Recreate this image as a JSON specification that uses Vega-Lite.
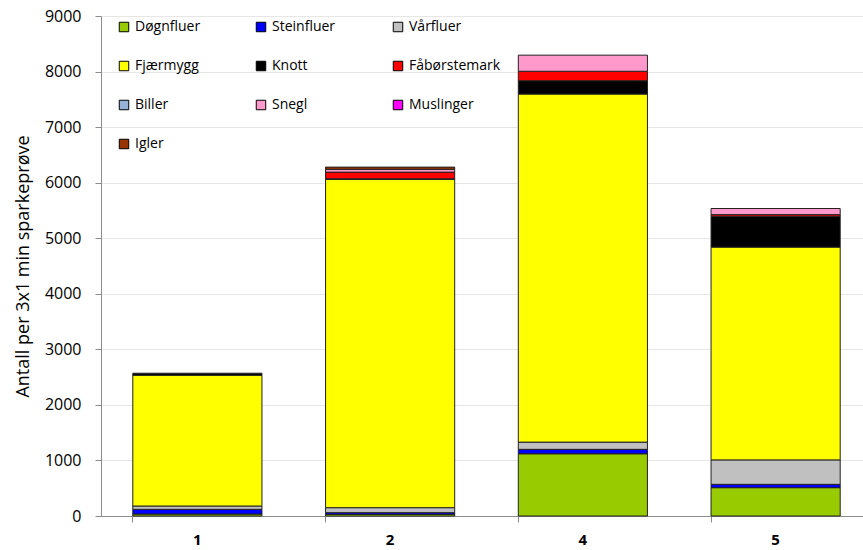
{
  "$schema": "https://vega.github.io/schema/vega-lite/v6.json",
  "autosize": "none",
  "width": 771,
  "height": 500,
  "padding": {"left": 101, "top": 16, "right": 0, "bottom": 34},
  "background": "white",
  "config": {
    "view": {"stroke": null},
    "font": "Open Sans"
  },
  "data": {
    "values": [
      {"stasjon": "1", "gruppe": "Døgnfluer", "antall": 35},
      {"stasjon": "1", "gruppe": "Steinfluer", "antall": 85},
      {"stasjon": "1", "gruppe": "Vårfluer", "antall": 60},
      {"stasjon": "1", "gruppe": "Fjærmygg", "antall": 2355},
      {"stasjon": "1", "gruppe": "Knott", "antall": 35},
      {"stasjon": "2", "gruppe": "Døgnfluer", "antall": 30},
      {"stasjon": "2", "gruppe": "Steinfluer", "antall": 30},
      {"stasjon": "2", "gruppe": "Vårfluer", "antall": 90},
      {"stasjon": "2", "gruppe": "Fjærmygg", "antall": 5910},
      {"stasjon": "2", "gruppe": "Knott", "antall": 10},
      {"stasjon": "2", "gruppe": "Fåbørstemark", "antall": 120},
      {"stasjon": "2", "gruppe": "Snegl", "antall": 50},
      {"stasjon": "2", "gruppe": "Igler", "antall": 40},
      {"stasjon": "4", "gruppe": "Døgnfluer", "antall": 1120},
      {"stasjon": "4", "gruppe": "Steinfluer", "antall": 80},
      {"stasjon": "4", "gruppe": "Vårfluer", "antall": 130},
      {"stasjon": "4", "gruppe": "Fjærmygg", "antall": 6265},
      {"stasjon": "4", "gruppe": "Knott", "antall": 240},
      {"stasjon": "4", "gruppe": "Fåbørstemark", "antall": 170},
      {"stasjon": "4", "gruppe": "Snegl", "antall": 290},
      {"stasjon": "5", "gruppe": "Døgnfluer", "antall": 510},
      {"stasjon": "5", "gruppe": "Steinfluer", "antall": 60},
      {"stasjon": "5", "gruppe": "Vårfluer", "antall": 440},
      {"stasjon": "5", "gruppe": "Fjærmygg", "antall": 3830},
      {"stasjon": "5", "gruppe": "Knott", "antall": 555},
      {"stasjon": "5", "gruppe": "Fåbørstemark", "antall": 30},
      {"stasjon": "5", "gruppe": "Snegl", "antall": 110}
    ]
  },
  "transform": [
    {"calculate": "indexof(['Døgnfluer','Steinfluer','Vårfluer','Fjærmygg','Knott','Fåbørstemark','Biller','Snegl','Muslinger','Igler'], datum.gruppe)", "as": "rekkefolge"}
  ],
  "resolve": {"axis": {"x": "independent"}},
  "layer": [
    {
      "mark": {"type": "bar", "stroke": "#222222", "strokeWidth": 1},
      "encoding": {
        "x": {
          "field": "stasjon", "type": "nominal",
          "scale": {"paddingInner": 0.33, "paddingOuter": 0.165},
          "axis": {
            "orient": "bottom",
            "title": null, "labelAngle": 0, "labelFont": "Open Sans", "labelFontSize": 15,
            "labelFontWeight": "bold", "labelColor": "#000000", "labelPadding": 16,
            "ticks": false, "domainColor": "#8c8c8c", "domainWidth": 1, "grid": false
          }
        },
        "y": {
          "field": "antall", "type": "quantitative", "stack": "zero",
          "scale": {"domain": [0, 9000], "nice": false},
          "axis": {
            "title": "Antall per 3x1 min sparkeprøve", "titleFont": "Open Sans", "titleFontSize": 18,
            "titleFontWeight": "normal", "titleColor": "#000000", "titlePadding": 12,
            "values": [0,1000,2000,3000,4000,5000,6000,7000,8000,9000], "format": "d",
            "labelFont": "Open Sans", "labelFontSize": 16, "labelColor": "#000000", "labelPadding": 14,
            "tickSize": 6, "tickColor": "#8c8c8c", "domainColor": "#8c8c8c",
            "gridColor": "#e6e6e6", "gridWidth": 1
          }
        },
        "color": {
          "field": "gruppe", "type": "nominal",
          "scale": {
            "domain": ["Døgnfluer","Steinfluer","Vårfluer","Fjærmygg","Knott","Fåbørstemark","Biller","Snegl","Muslinger","Igler"],
            "range": ["#99CC00","#0000FF","#C0C0C0","#FFFF00","#000000","#FF0000","#95B3D7","#FF99CC","#FF00FF","#993300"]
          },
          "legend": {
            "title": null, "orient": "none", "legendX": 16, "legendY": 4,
            "columns": 3, "direction": "horizontal", "gridAlign": "all",
            "columnPadding": 27, "rowPadding": 25,
            "symbolType": "square", "symbolSize": 90, "symbolStrokeColor": "#000000", "symbolStrokeWidth": 1,
            "labelFont": "Open Sans", "labelFontSize": 14, "labelColor": "#000000", "labelOffset": 4
          }
        },
        "order": {"field": "rekkefolge", "type": "quantitative"}
      }
    },
    {
      "mark": {"type": "bar", "opacity": 0},
      "encoding": {
        "x": {
          "field": "stasjon", "type": "nominal",
          "axis": {
            "orient": "bottom", "title": null, "labels": false, "domain": false, "grid": false,
            "ticks": true, "bandPosition": 0, "tickSize": 6, "tickColor": "#8c8c8c"
          }
        }
      }
    }
  ]
}
